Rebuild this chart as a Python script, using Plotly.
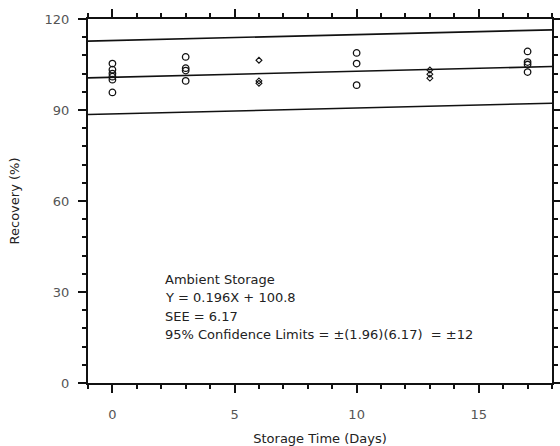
import plotly.graph_objects as go

# Data
days_circ = [0, 0, 0, 0, 0, 0, 3, 3, 3, 3, 10, 10, 10, 17, 17, 17, 17]
rec_circ = [105.3, 103.3, 102.0, 101.0, 100.0, 95.8,
            107.5, 103.8, 103.0, 99.6,
            108.8, 105.3, 98.2,
            109.3, 105.8, 105.0, 102.5]
days_small = [6, 6, 6, 13, 13, 13]
rec_small = [106.4, 99.6, 98.8, 103.2, 101.8, 100.5]

slope = 0.196
intercept = 100.8
limit = 12.1
line_x = [-1, 18]

ann_lines = ["Ambient Storage",
             "Y = 0.196X + 100.8",
             "SEE = 6.17",
             "95% Confidence Limits = \u00b1(1.96)(6.17)  = \u00b112"]

font_family = "DejaVu Sans, Verdana, sans-serif"
txt = "#222222"

L, R, T, B = 88, 8, 19, 63
W, H = 560, 446
pw, ph = W - L - R, H - T - B

fig = go.Figure()
for off in [limit, 0, -limit]:
    fig.add_trace(go.Scatter(
        x=line_x, y=[slope * x + intercept + off for x in line_x],
        mode="lines", line=dict(color="#111111", width=1.6),
        hoverinfo="skip", showlegend=False))

fig.add_trace(go.Scatter(
    x=days_circ, y=rec_circ, mode="markers",
    marker=dict(symbol="circle-open", size=6.5, color="#111111", line=dict(width=1.3)),
    showlegend=False))
fig.add_trace(go.Scatter(
    x=days_small, y=rec_small, mode="markers",
    marker=dict(symbol="diamond-open", size=4.5, color="#111111", line=dict(width=1.1)),
    showlegend=False))

ann_x_px = 163
ann_y_px = [279, 297, 316, 334]
for t, ypx in zip(ann_lines, ann_y_px):
    fig.add_annotation(x=(ann_x_px - L) / pw, y=1 - (ypx - T) / ph,
                       xref="paper", yref="paper",
                       text=t, showarrow=False, xanchor="left", yanchor="middle",
                       font=dict(size=13, color=txt, family=font_family))

axis_common = dict(showline=True, linecolor="#111111", linewidth=2,
                   mirror="allticks", ticks="outside", tickcolor="#111111",
                   tickwidth=1.8, ticklen=8, showgrid=False, zeroline=False,
                   automargin=False,
                   tickfont=dict(size=13, color="#555555", family=font_family))

fig.update_layout(
    width=W, height=H,
    margin=dict(l=L, r=R, t=T, b=B),
    plot_bgcolor="white", paper_bgcolor="white",
    xaxis=dict(range=[-1, 18], tick0=0, dtick=5, ticklabelstandoff=10,
               minor=dict(dtick=1, tick0=0, ticklen=4, ticks="outside", tickcolor="#111111", tickwidth=1.8),
               title=dict(text="Storage Time (Days)", standoff=14,
                          font=dict(size=13, color=txt, family=font_family)),
               **axis_common),
    yaxis=dict(range=[0, 120], tick0=0, dtick=30, ticklabelstandoff=6,
               minor=dict(dtick=6, tick0=0, ticklen=4, ticks="outside", tickcolor="#111111", tickwidth=1.8),
               title=dict(text="Recovery (%)", standoff=22,
                          font=dict(size=13, color=txt, family=font_family)),
               **axis_common),
)

fig.write_html("out.html")
